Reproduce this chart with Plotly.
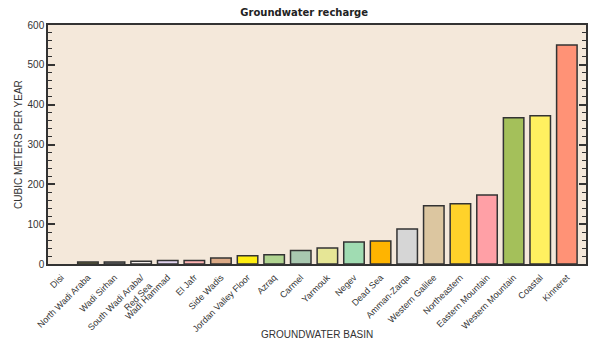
import plotly.graph_objects as go

basins = [
    "Disi", "North Wadi Araba", "Wadi Sirhan", "South Wadi Araba/<br>Red Sea",
    "Wadi Hammad", "El Jafr", "Side Wadis", "Jordan Valley Floor", "Azraq",
    "Carmel", "Yarmouk", "Negev", "Dead Sea", "Amman-Zarqa", "Western Galilee",
    "Northeastern", "Eastern Mountain", "Western Mountain", "Coastal", "Kinneret",
]
recharge = [0, 5, 5, 7, 9, 9, 15, 21, 23, 34, 40, 55, 58, 88, 146, 151, 173, 367, 372, 550]
colors = [
    "#c8c8a0", "#858540", "#8c8c8c", "#f6f0ee", "#e2d4f0", "#ffb4b4",
    "#dcaa86", "#ffee10", "#b0d490", "#a8c8b0", "#e6e696", "#a0dcb2",
    "#ffb400", "#d6d6d6", "#dcc6a0", "#ffd22a", "#ffa0a6", "#a4c05a",
    "#fff060", "#ff9276",
]
y_ticks = [0, 100, 200, 300, 400, 500, 600]

# no outline on empty bars
outline_widths = [1.5 if v > 0 else 0 for v in recharge]

fig = go.Figure(
    go.Bar(
        x=list(range(len(basins))),
        y=recharge,
        width=0.77,
        marker=dict(color=colors, line=dict(color="#333333", width=outline_widths)),
    )
)

fig.update_layout(
    width=600,
    height=341,
    margin=dict(l=48, r=14, t=24.5, b=76.5, autoexpand=False),
    paper_bgcolor="white",
    plot_bgcolor="#f4e8da",
    showlegend=False,
    title=dict(
        text="<b>Groundwater recharge</b>",
        x=0.507, xanchor="center", y=0.963, yanchor="middle",
        font=dict(family="DejaVu Sans", size=10, color="#222222"),
    ),
    font=dict(family="Liberation Sans", size=9, color="#333333"),
)

fig.update_xaxes(
    tickmode="array",
    tickvals=list(range(len(basins))),
    ticktext=basins,
    tickangle=-45,
    ticks="",
    ticklabelstandoff=3,
    range=[-0.5, 19.72],
    showline=True, linecolor="#333333", linewidth=1.5, mirror=True,
    showgrid=False,
    automargin=False,
    tickfont=dict(size=9, color="#333333"),
)

fig.update_yaxes(
    range=[0, 600],
    tickmode="array",
    tickvals=y_ticks,
    ticks="inside", ticklen=7, tickwidth=1.5, tickcolor="#333333",
    minor=dict(dtick=20, ticks="inside", ticklen=4, tickwidth=1, tickcolor="#333333"),
    showline=True, linecolor="#333333", linewidth=1.5, mirror="allticks",
    showgrid=False, zeroline=False,
    automargin=False,
    tickfont=dict(size=10, color="#333333"),
)

fig.add_annotation(
    text="GROUNDWATER BASIN", xref="paper", yref="paper",
    x=0.5, y=-0.295, xanchor="center", yanchor="middle", showarrow=False,
    font=dict(size=10, color="#333333"),
)
fig.add_annotation(
    text="CUBIC METERS PER YEAR", xref="paper", yref="paper",
    x=-0.055, y=0.5, xanchor="center", yanchor="middle", textangle=-90,
    showarrow=False, font=dict(size=10, color="#333333"),
)

fig.write_html("out.html")
